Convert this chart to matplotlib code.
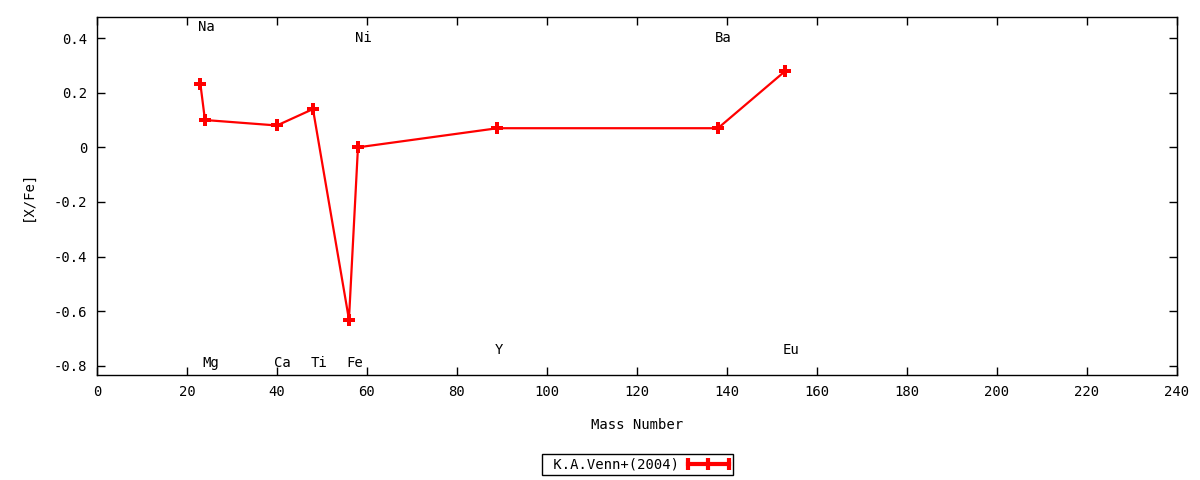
import matplotlib.pyplot as plt
from matplotlib.lines import Line2D

plt.rcParams['font.family'] = ['DejaVu Sans Mono']
plt.rcParams['font.size'] = 10

# [X/Fe] vs mass number, K.A.Venn+(2004)
elements = ['Na', 'Mg', 'Ca', 'Ti', 'Fe', 'Ni', 'Y', 'Ba', 'Eu']
mass = [23, 24, 40, 48, 56, 58, 89, 138, 153]
xfe = [0.23, 0.10, 0.08, 0.14, -0.63, 0.0, 0.07, 0.07, 0.28]
label_y = [0.44, -0.79, -0.79, -0.79, -0.79, 0.40, -0.74, 0.40, -0.74]

xticks = list(range(0, 241, 20))
yticks = [-0.8, -0.6, -0.4, -0.2, 0, 0.2, 0.4]
ytick_labels = ['-0.8', '-0.6', '-0.4', '-0.2', '0', '0.2', '0.4']


class ErrKey:
    # gnuplot-style key sample: line with end caps and a point in the middle
    def legend_artist(self, legend, orig_handle, fontsize, handlebox):
        x0, y0 = handlebox.xdescent, handlebox.ydescent
        w, h = handlebox.width, handlebox.height
        ym = y0 + h / 2
        tr = handlebox.get_transform()
        arts = [
            Line2D([x0, x0 + w], [ym, ym], color='red', lw=3, transform=tr),
            Line2D([x0, x0 + w], [ym, ym], color='red', lw=0, marker='|',
                   markersize=9, markeredgewidth=3, transform=tr),
            Line2D([x0 + w / 2], [ym], color='red', marker='|',
                   markersize=9, markeredgewidth=3, transform=tr),
        ]
        for a in arts:
            handlebox.add_artist(a)
        return arts[0]


fig = plt.figure(figsize=(12, 4.8), dpi=100)
ax = fig.add_axes([0.0808, 0.2188, 0.9, 0.7458])

line, = ax.plot(mass, xfe, color='red', lw=1.6, marker='P', markersize=9,
                markeredgewidth=0)

for el, m, ly in zip(elements, mass, label_y):
    ax.text(m - 0.6, ly, el, ha='left', va='center')

ax.set_xlim(0, 240)
ax.set_ylim(-0.833, 0.477)
ax.set_xticks(xticks)
ax.set_yticks(yticks)
ax.set_yticklabels(ytick_labels)
ax.tick_params(direction='in', top=True, right=True, length=6, width=1, pad=7)
for s in ax.spines.values():
    s.set_linewidth(1)

ax.set_xlabel('Mass Number', labelpad=14)
ax.set_ylabel('[X/Fe]', labelpad=14)

fig.legend([line], [' K.A.Venn+(2004)'], handler_map={line: ErrKey()},
           loc='center', bbox_to_anchor=(0.531, 0.032), markerfirst=False,
           frameon=True, fancybox=False, edgecolor='black', framealpha=1,
           handlelength=3, handletextpad=0.6, borderpad=0.25, borderaxespad=0)

fig.savefig('out.png', dpi=100)
